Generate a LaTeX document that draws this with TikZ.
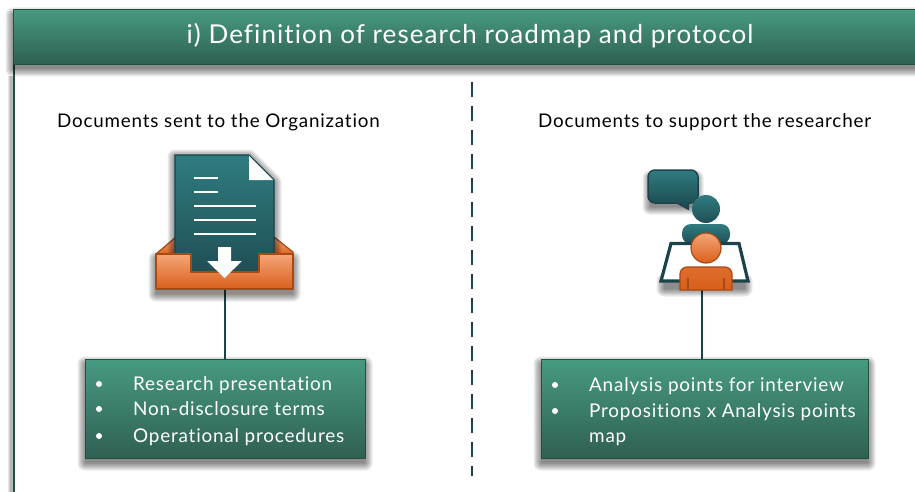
\documentclass[tikz,border=0pt]{standalone}
\usepackage{fontspec}
\setmainfont[Ligatures=NoCommon,LetterSpace=4.2]{Lato}
\usetikzlibrary{calc}
\definecolor{gtop}{HTML}{479A82}
\definecolor{gbot}{HTML}{2F5F52}
\definecolor{gline}{HTML}{24503F}
\definecolor{ttop}{HTML}{2F7C80}
\definecolor{tbot}{HTML}{1F4F55}
\definecolor{tline}{HTML}{1A4449}
\definecolor{otop}{HTML}{F4A678}
\definecolor{obot}{HTML}{D95F1B}
\definecolor{oline}{HTML}{A84A12}
\newcommand{\softshadow}[2][5]{%
  \foreach \w in {15,12.5,10,7.5,5,2.5,0.5}{
    \begin{scope}[transparency group,opacity=0.08]
    \fill[black,draw=black,line width=\w pt,line join=round,yshift=-#1pt] #2;
    \end{scope}}}
\tikzset{
  greenfill/.style={top color=gtop,bottom color=gbot,draw=gline,line width=1.4pt},
  tealfill/.style={top color=ttop,bottom color=tbot},
  orangefill/.style={top color=otop,bottom color=obot,draw=oline,line width=1.2pt,line join=round},
  listbox/.style={greenfill,rectangle,inner sep=0pt,anchor=north west},
  boxtext/.style={text=white,font=\fontsize{18.9}{19}\selectfont,anchor=base west,inner sep=0pt},
  bullet/.style={circle,fill=white,inner sep=0pt,minimum size=6pt},
  caption/.style={text=black,font=\fontsize{18.8}{20}\selectfont,anchor=base west,inner sep=0pt},
  link/.style={draw=tline,line width=1.3pt},
  docline/.style={draw=white,line width=2.4pt},
}
\begin{document}
\begin{tikzpicture}[x=1pt,y=-1pt]
\useasboundingbox (0,0) rectangle (915,492);
\fill[white] (0,0) rectangle (915,492);
% frame left side and header
\begin{scope}
\clip (0,0) rectangle (915,492);
\foreach \w in {7,5,3}
  \draw[black,opacity=0.10,line width=\w pt] (11,76) -- (11,500);
\fill[white] (14,60) rectangle (30,500);
\draw[gline,line width=1.6pt] (14,64) -- (14,500);
\softshadow{(13,10) rectangle (930,64)}
\node[listbox,minimum width=925pt,minimum height=55pt] (header) at (13,9) {};
\end{scope}
\node[text=white,font=\fontsize{26}{27}\selectfont,inner sep=0pt] (title) at (470,36) {i) Definition of research roadmap and protocol};
% divider
\coordinate (divtop) at (472,82);
\coordinate (divbot) at (472,476);
\draw[tline,line width=1.5pt,dash pattern=on 15pt off 9pt] (divtop) -- (divbot);
% captions
\node[caption] (capl) at (57,128) {Documents sent to the Organization};
\node[caption] (capr) at (538,128) {Documents to support the researcher};
% connectors
\coordinate (trayb) at (225,289);
\coordinate (persb) at (702,290);
% boxes
\softshadow{(85,359) rectangle (365,458)}
\node[listbox,minimum width=280pt,minimum height=99pt] (boxl) at (85,359) {};
\softshadow{(541,359) rectangle (868,458)}
\node[listbox,minimum width=327pt,minimum height=99pt] (boxr) at (541,359) {};
\draw[link] (trayb) -- (trayb |- boxl.north);
\draw[link] (persb) -- (persb |- boxr.north);
\foreach \n/\y/\t in {a/390/Research presentation,b/415/Non-disclosure terms,c/442/Operational procedures}{
  \node[bullet] (bl\n) at (99,\y-6) {};
  \node[boxtext] (tl\n) at (133,\y) {\t};
}
\foreach \n/\y in {a/385,b/411}{\node[bullet] (br\n) at (555,\y) {};}
\node[boxtext] (tra) at (589,391) {Analysis points for interview};
\node[boxtext] (trb) at (589,417) {Propositions x Analysis points};
\node[boxtext] (trc) at (589,442) {map};
% inbox icon: back flaps
\softshadow{(156,254) -- (156,289) -- (293,289) -- (293,254) -- cycle}
\draw[orangefill] (156,254) -- (176,237) -- (176,256) -- cycle;
\draw[orangefill] (274,237) -- (293,252) -- (293,256) -- (274,256) -- cycle;
% document
\softshadow[2]{(175,155) -- (249,155) -- (274,180) -- (274,272) -- (175,272) -- cycle}
\shade[tealfill] (175,155) -- (249,155) -- (274,180) -- (274,272) -- (175,272) -- cycle;
\draw[tline,line width=1.1pt] (175,272) -- (175,155) -- (249,155) -- (274,180) -- (274,272);
\fill[white] (249,156) -- (273,180) -- (249,180) -- cycle;
\draw[docline] (194,178) -- (218,178);
\draw[docline] (194,192) -- (218,192);
\draw[docline] (194,206) -- (256,206);
\draw[docline] (194,220) -- (256,220);
\draw[docline] (194,234) -- (256,234);
% tray front
\draw[orangefill] (156,254) -- (191,254) -- (191,272) -- (259,272) -- (259,254) -- (293,254) -- (293,289) -- (156,289) -- cycle;
% arrow
\fill[white] (218,247) -- (231,247) -- (231,261) -- (242,261) -- (224.5,278) -- (207,261) -- (218,261) -- cycle;
% person icon
\softshadow[4]{(650,174) rectangle (696,203)}
\path[tealfill,draw=tline,line width=1.5pt,rounded corners=7pt] (648,170) rectangle (698,203);
\fill[tbot] (677,202) -- (689,210) -- (689,202) -- cycle;
\draw[tline,line width=1.5pt] (677,203) -- (688,209) -- (688,203);
\softshadow[5]{(664,276) rectangle (745,284)}
\shade[tealfill] (706,209) circle (14pt);
\shade[tealfill,rounded corners=9pt] (682,244) -- (682,224) -- (730,224) -- (730,244) -- cycle;
\filldraw[fill=white,draw=tline,line width=3.2pt,line join=miter] (671,243.5) -- (739,243.5) -- (748,281) -- (661,281) -- cycle;
\draw[orangefill] (706,248) circle (15pt);
\draw[top color=obot!80!otop,bottom color=obot,draw=oline,line width=1.2pt] (680,290) -- (680,274) to[out=90,in=180] (687,267) -- (725,267) to[out=0,in=90] (732,274) -- (732,290) -- cycle;
\draw[oline,line width=1.2pt] (688,278) -- (688,290);
\draw[oline,line width=1.2pt] (724,278) -- (724,290);
\end{tikzpicture}
\end{document}
